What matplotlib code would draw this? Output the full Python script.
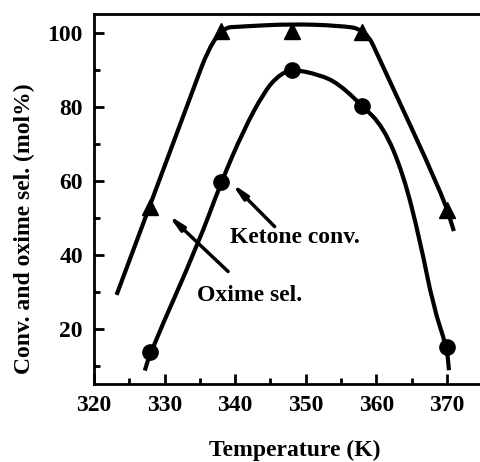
import matplotlib.pyplot as plt
from matplotlib.path import Path
from matplotlib.patches import PathPatch
from matplotlib.ticker import MultipleLocator

plt.rcParams['font.family'] = ['Liberation Serif', 'DejaVu Serif']
plt.rcParams['font.weight'] = 'bold'

# measured points
temp = [328, 338, 348, 358, 370]
ketone_conv = [53.1, 100.4, 100.4, 100.2, 52.2]
oxime_sel = [14.0, 59.6, 90.0, 80.1, 15.3]

# guide curves drawn by hand through the measurements (control points)
ketone_curve_x = [323.2, 333.0, 337.3, 341.5, 348.0, 354.5, 358.5, 360.5, 369.4, 371.0]
ketone_curve_y = [29.3, 79.3, 101.2, 101.7, 102.3, 101.9, 100.9, 92.7, 56.2, 46.5]
oxime_curve_x = [327.2, 328.0, 334.8, 338.0, 341.2, 344.0, 345.9, 348.0, 352.0,
                 354.6, 357.9, 361.0, 363.8, 366.2, 368.1, 370.0, 370.3]
oxime_curve_y = [8.9, 13.9, 43.2, 59.6, 73.7, 83.6, 88.1, 90.2, 88.6,
                 86.3, 80.5, 74.6, 62.1, 44.0, 26.0, 15.2, 9.0]


def smooth_path(xs, ys):
    # quadratic bezier chain: inner points act as control points,
    # segments join halfway between neighbours
    pts = list(zip(xs, ys))
    mid = lambda a, b: ((a[0] + b[0]) / 2, (a[1] + b[1]) / 2)
    verts = [pts[0], mid(pts[0], pts[1])]
    codes = [Path.MOVETO, Path.LINETO]
    for i in range(1, len(pts) - 1):
        verts += [pts[i], mid(pts[i], pts[i + 1])]
        codes += [Path.CURVE3, Path.CURVE3]
    verts.append(pts[-1])
    codes.append(Path.LINETO)
    return Path(verts, codes)


fig = plt.figure(figsize=(4.8, 4.62), dpi=100)
ax = fig.add_axes([94 / 480, 1 - 384.3 / 462, 1 - 94 / 480, (384.3 - 14) / 462])

for cx, cy in [(ketone_curve_x, ketone_curve_y), (oxime_curve_x, oxime_curve_y)]:
    ax.add_patch(PathPatch(smooth_path(cx, cy), facecolor='none',
                           edgecolor='black', lw=3, capstyle='butt',
                           joinstyle='round'))
ax.plot(temp, ketone_conv, 'k^', ms=12, clip_on=False)
ax.plot(temp, oxime_sel, 'ko', ms=11, clip_on=False)

arrow = dict(arrowstyle='-|>,head_length=0.9,head_width=0.18', color='black',
             lw=2.5, shrinkA=0, shrinkB=0)
ax.annotate('', xy=(339.5, 59.4), xytext=(345.6, 47.7), arrowprops=arrow)
ax.annotate('', xy=(330.5, 50.9), xytext=(339.0, 35.6), arrowprops=arrow)
ax.text(339.3, 44.7, 'Ketone conv.', fontsize=17, fontweight='bold',
        ha='left', va='center')
ax.text(334.6, 29.0, 'Oxime sel.', fontsize=17, fontweight='bold',
        ha='left', va='center')

ax.set_xlim(320, 374.7)
ax.set_ylim(5.2, 105)
ax.xaxis.set_major_locator(MultipleLocator(10))
ax.xaxis.set_minor_locator(MultipleLocator(5))
ax.yaxis.set_major_locator(MultipleLocator(20))
ax.yaxis.set_minor_locator(MultipleLocator(10))
ax.tick_params(which='both', direction='in', width=2)
ax.tick_params(which='major', length=7, labelsize=17)
ax.tick_params(which='minor', length=4)
ax.tick_params(axis='x', which='major', pad=8)
ax.tick_params(axis='y', which='major', pad=8)
ax.spines['right'].set_visible(False)
for s in ['left', 'bottom', 'top']:
    ax.spines[s].set_linewidth(2)

ax.set_xlabel('Temperature (K)', fontsize=17, fontweight='bold')
ax.set_ylabel('Conv. and oxime sel. (mol%)', fontsize=17, fontweight='bold')
ax.xaxis.set_label_coords(0.52, -0.15)
ax.yaxis.set_label_coords(-0.152, 0.42)

fig.savefig('out.png', dpi=100)
